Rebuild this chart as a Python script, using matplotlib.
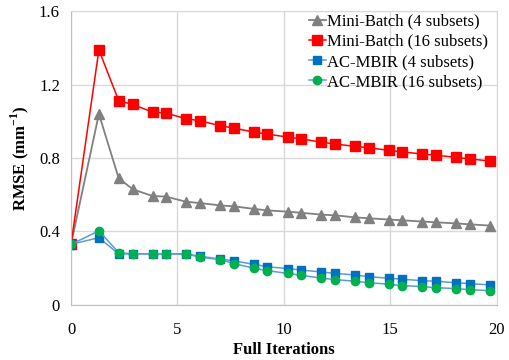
import matplotlib.pyplot as plt

plt.rcParams['font.family'] = ['Liberation Serif', 'DejaVu Serif']
plt.rcParams['mathtext.fontset'] = 'custom'
plt.rcParams['mathtext.rm'] = 'Liberation Serif'
plt.rcParams['mathtext.bf'] = 'Liberation Serif:bold'

# x positions (full iterations) shared by all series
iters = [0, 1.31, 2.24, 2.9, 3.83, 4.46, 5.4, 6.06, 7.0, 7.65, 8.6, 9.2, 10.17,
         10.8, 11.72, 12.4, 13.33, 13.99, 14.93, 15.57, 16.5, 17.14, 18.08, 18.73, 19.67]

mb4 = [0.33, 1.04, 0.69, 0.63, 0.593, 0.59, 0.562, 0.555, 0.542, 0.537, 0.523, 0.515, 0.508,
       0.502, 0.492, 0.488, 0.477, 0.472, 0.465, 0.461, 0.454, 0.45, 0.444, 0.439, 0.432]
mb16 = [0.33, 1.389, 1.112, 1.092, 1.05, 1.045, 1.014, 1.003, 0.976, 0.963, 0.941, 0.931, 0.914,
        0.905, 0.887, 0.876, 0.864, 0.856, 0.842, 0.833, 0.822, 0.815, 0.804, 0.795, 0.784]
ac4 = [0.33, 0.366, 0.278, 0.278, 0.278, 0.278, 0.278, 0.265, 0.25, 0.24, 0.221, 0.208, 0.198,
       0.19, 0.18, 0.172, 0.163, 0.154, 0.145, 0.14, 0.132, 0.129, 0.121, 0.116, 0.109]
ac16 = [0.33, 0.403, 0.285, 0.278, 0.278, 0.278, 0.278, 0.26, 0.247, 0.225, 0.2, 0.187, 0.172,
        0.161, 0.147, 0.138, 0.129, 0.121, 0.113, 0.105, 0.1, 0.094, 0.089, 0.083, 0.078]

fig = plt.figure(figsize=(5.09, 3.6), dpi=100)
ax = fig.add_axes([0.1395, 0.153, 0.8365, 0.816])

ax.plot(iters, mb4, color='#808080', marker='^', markersize=7, lw=1.3, label='Mini-Batch (4 subsets)')
ax.plot(iters, mb16, color='#ff0000', marker='s', markersize=7, lw=1.1, label='Mini-Batch (16 subsets)')
ax.plot(iters, ac4, color='#5b9bd5', marker='s', markersize=5.5, mfc='#0070c0', mec='#0070c0',
        lw=1.1, label='AC-MBIR (4 subsets)')
ax.plot(iters, ac16, color='#5b9bd5', marker='o', markersize=6, mfc='#00b050', mec='#00b050',
        lw=1.1, label='AC-MBIR (16 subsets)')

ax.set_xlim(0, 20)
ax.set_ylim(0, 1.6)
ax.set_xticks([0, 5, 10, 15, 20])
ax.set_yticks([0, 0.4, 0.8, 1.2, 1.6])
ax.set_yticklabels(['0', '0.4', '0.8', '1.2', '1.6'])
ax.grid(True, color='#d9d9d9', lw=1)
ax.set_axisbelow(True)
for s in ax.spines.values():
    s.set_color('#d9d9d9')
ax.spines['left'].set_color('#bfbfbf')
ax.spines['bottom'].set_color('#bfbfbf')
ax.tick_params(length=0, labelsize=12, labelfontfamily='Liberation Serif')
ax.tick_params(axis='x', pad=12)
ax.tick_params(axis='y', pad=8)

ax.set_xlabel('Full Iterations', fontsize=12, fontweight='bold', labelpad=3)
ax.set_ylabel('RMSE (mm$^{\\mathbf{-1}}$)', fontsize=12, fontweight='bold', labelpad=6)

ax.legend(loc='upper right', frameon=False, fontsize=12, handlelength=1.0, handletextpad=0.1,
          labelspacing=0.25, borderaxespad=0.1, bbox_to_anchor=(1.0, 1.02))

fig.savefig('out.png', dpi=100)
